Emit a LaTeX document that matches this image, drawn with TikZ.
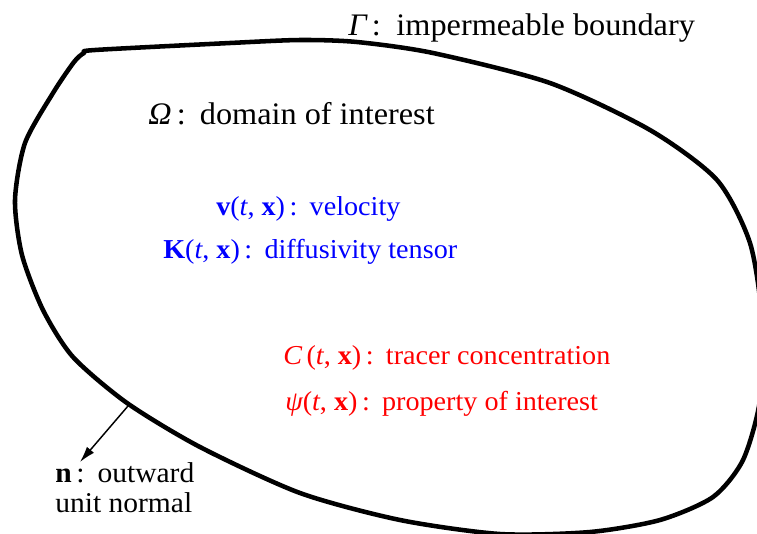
\documentclass[tikz,border=0pt]{standalone}
\usepackage{fontspec}
\setmainfont{Liberation Serif}[FakeStretch=1.03]
\usetikzlibrary{arrows.meta}

\tikzset{
  grand/.style={font=\fontsize{23.5}{28}\selectfont, inner sep=0pt, anchor=base west},
  petit/.style={font=\fontsize{20.5}{22.5}\selectfont, inner sep=0pt, anchor=base west},
}

\begin{document}
\begin{tikzpicture}[x=0.75pt, y=-0.75pt]
			\definecolor{bord}{RGB}{0,0,0}
			\definecolor{champ}{RGB}{0,0,255}
			\definecolor{traceur}{RGB}{255,0,0}
			\useasboundingbox (0,0) rectangle (757,533);
			\clip (0,0) rectangle (757,533);
			% frontiere du domaine
			\draw[bord, line width=3.4pt, line join=round] plot[smooth cycle, tension=0.45] coordinates {
				(95,50) (230,43) (300,40) (357,42) (433,53) (550,83) (650,130)
				(717,180) (750,243) (762,320) (760,400) (743,460) (713,497)
				(660,520) (590,532) (500,534) (400,520) (300,493) (200,447)
				(127,403) (73,357) (43,310) (22,255) (15,200) (25,143) (53,93) (74,62) (84,53)};
			% textes
			\node[grand] (gamma) at (348,35) {{\itshape Γ}\,:\hspace{.5em}impermeable boundary};
			\node[grand] (omega) at (148,124) {{\itshape Ω}\,:\hspace{.45em}domain of interest};
			\node[petit, champ] (vitesse) at (216,215) {\textbf{v}({\itshape t}, \textbf{x})\,:\hspace{.45em}velocity};
			\node[petit, champ] (diffus) at (163,258) {\textbf{K}({\itshape t}, \textbf{x})\,:\hspace{.45em}diffusivity tensor};
			\node[petit, traceur] (conc) at (283,364) {{\itshape C}\,({\itshape t}, \textbf{x})\,:\hspace{.45em}tracer concentration};
			\node[petit, traceur] (propr) at (285,410) {{\itshape ψ}({\itshape t}, \textbf{x})\,:\hspace{.45em}property of interest};
			\node[petit, font=\fontsize{21.5}{23}\selectfont, align=left, anchor=north west] (normale) at (55,462) {\textbf{n}\,:\hspace{.45em}outward\\unit normal};
			% normale sortante
			\coordinate (pied) at (128,406);
			\draw[bord, line width=1.1pt, -{Latex[length=12pt, width=7pt]}] (pied) -- (normale.north west -| 80,0);
		\end{tikzpicture}
\end{document}
